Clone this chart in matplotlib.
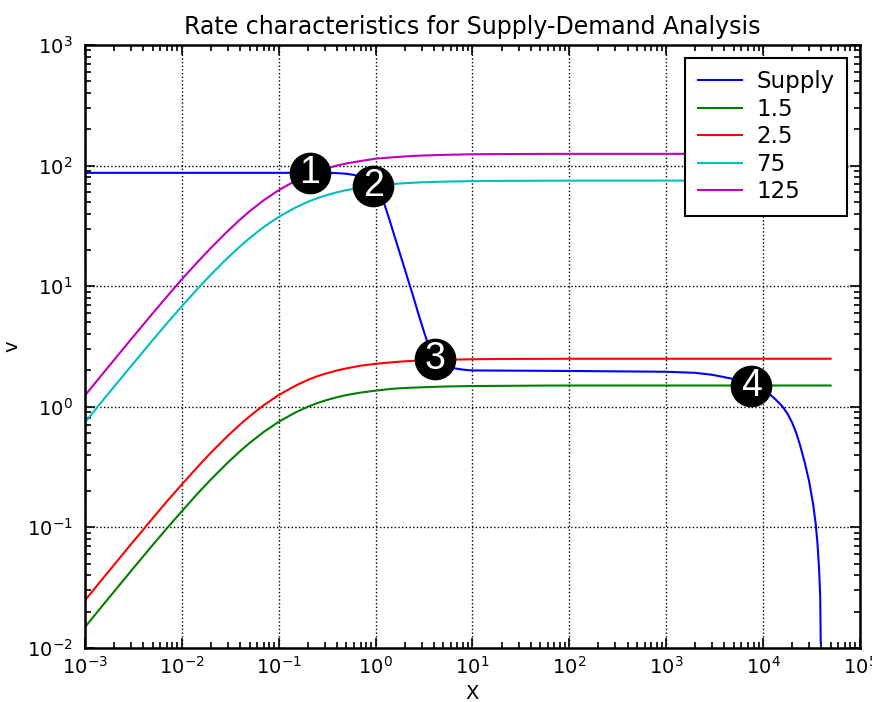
import numpy as np
import matplotlib
matplotlib.use('Agg')
import matplotlib.pyplot as plt

plt.rcParams['font.family'] = ['DejaVu Sans']
plt.rcParams['axes.unicode_minus'] = False

# Demanda
x_dem = [1e-3, 1.5e-3, 2e-3, 3e-3, 5e-3, 7e-3, 1e-2, 1.5e-2, 2e-2, 3e-2, 4e-2,
         5e-2, 7e-2, 0.1, 0.15, 0.2, 0.25, 0.3, 0.4, 0.5, 0.7, 1, 1.5, 2, 3,
         5, 10, 20, 50, 100, 1e3, 1e4, 5e4]
v_15 = [0.0149, 0.0222, 0.0294, 0.0437, 0.0714, 0.0981, 0.136, 0.196, 0.25,
        0.346, 0.429, 0.5, 0.618, 0.75, 0.9, 1.0, 1.071, 1.125, 1.2, 1.25,
        1.31, 1.36, 1.41, 1.43, 1.45, 1.47, 1.485, 1.49, 1.497, 1.5, 1.5,
        1.5, 1.5]
v_25 = [0.0248, 0.037, 0.049, 0.0728, 0.119, 0.164, 0.227, 0.326, 0.417,
        0.577, 0.714, 0.833, 1.03, 1.25, 1.5, 1.67, 1.79, 1.875, 2.0, 2.08,
        2.19, 2.27, 2.34, 2.38, 2.42, 2.45, 2.475, 2.49, 2.495, 2.5, 2.5,
        2.5, 2.5]
v_75 = [0.743, 1.11, 1.47, 2.18, 3.57, 4.91, 6.82, 9.78, 12.5, 17.3, 21.4,
        25.0, 30.9, 37.5, 45.0, 50.0, 53.6, 56.3, 60.0, 62.5, 65.6, 68.2,
        70.3, 71.4, 72.6, 73.5, 74.3, 74.6, 74.85, 74.9, 75, 75, 75]
v_125 = [1.24, 1.85, 2.45, 3.64, 5.95, 8.18, 11.4, 16.3, 20.8, 28.8, 35.7,
         41.7, 51.5, 62.5, 75.0, 83.3, 89.3, 93.8, 100, 104, 109, 114, 117,
         119, 121, 122.5, 124, 124.4, 124.8, 125, 125, 125, 125]

# Oferta
x_sup = [1e-3, 1e-2, 0.1, 0.3, 0.4, 0.5, 0.6, 0.7, 0.8, 0.9, 1.0, 1.1, 1.2,
         1.3, 1.4, 1.58, 1.85, 2.15, 2.45, 2.75, 3.1, 3.4, 3.7, 4.0, 4.5, 5.0,
         6.3, 8, 10, 100, 1e3, 2e3, 3e3, 4.6e3, 6e3, 7.6e3, 9e3, 1e4,
         1.1e4, 1.2e4, 1.35e4, 1.6e4, 1.8e4, 2.0e4, 2.2e4, 2.4e4, 2.7e4,
         3.0e4, 3.3e4, 3.5e4, 3.65e4, 3.8e4, 3.9e4, 3.95e4]
v_sup = [87, 87, 87, 87, 86.5, 85.5, 83.5, 81, 78, 74, 69, 61, 51,
         42, 35, 25.5, 17, 11.5, 8.2, 6.0, 4.4, 3.5, 2.95, 2.62, 2.38, 2.25,
         2.09, 2.03, 2.0, 1.98, 1.95, 1.91, 1.84, 1.72, 1.62, 1.5, 1.42, 1.37,
         1.31, 1.25, 1.15, 1.0, 0.87, 0.74, 0.61, 0.49, 0.345,
         0.24, 0.155, 0.108, 0.075, 0.045, 0.027, 0.011]

# Puntos de equilibrio
pts_x = [0.21, 0.95, 4.1, 7.6e3]
pts_y = [87, 68, 2.5, 1.5]
pts_lbl = ['1', '2', '3', '4']

fig = plt.figure(figsize=(8.72, 7.02), dpi=100)
ax = fig.add_axes([0.0975, 0.077, 0.8885, 0.859])

ax.plot(x_sup, v_sup, color='#0000ff', lw=1.5, label='Supply')
ax.plot(x_dem, v_15, color='#008000', lw=1.5, label='1.5')
ax.plot(x_dem, v_25, color='#ff0000', lw=1.5, label='2.5')
ax.plot(x_dem, v_75, color='#00bfbf', lw=1.5, label='75')
ax.plot(x_dem, v_125, color='#bf00bf', lw=1.5, label='125')

ax.plot(pts_x, pts_y, 'o', color='black', ms=29, zorder=5)
for px, py, t in zip(pts_x, pts_y, pts_lbl):
    ax.text(px, py, t, color='white', fontsize=27, ha='center', va='center',
            family='Liberation Sans', zorder=6)

ax.set_xscale('log')
ax.set_yscale('log')
ax.set_xlim(1e-3, 1e5)
ax.set_ylim(1e-2, 1e3)

ax.grid(True, which='major', linestyle=':', color='black', lw=1)
ax.tick_params(which='both', direction='in', top=True, right=True,
               labelsize=14, width=1.2)
ax.tick_params(which='major', length=7)
ax.tick_params(which='minor', length=4)
ax.tick_params(axis='y', pad=9)
ax.tick_params(axis='x', pad=6)
for s in ax.spines.values():
    s.set_linewidth(1.8)

ax.set_title('Rate characteristics for Supply-Demand Analysis', fontsize=17,
             pad=8)
ax.set_xlabel('X', fontsize=14, labelpad=4)
ax.set_ylabel('v', fontsize=14, labelpad=4)

leg = ax.legend(loc='upper right', fontsize=16.5, fancybox=False,
                edgecolor='black', framealpha=1, handlelength=1.9,
                borderpad=0.55, labelspacing=0.2, handletextpad=0.65,
                borderaxespad=0.55)
leg.get_frame().set_linewidth(1.5)

fig.savefig('out.png', dpi=100)
